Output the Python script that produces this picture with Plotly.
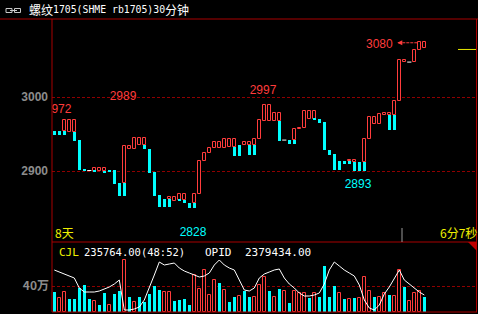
import plotly.graph_objects as go

W, H = 478, 314

# ---------------- data ----------------
N = 75
cols = list(range(N))

# red (rising) candle bodies: open (bottom) / close (top)
red_open = [None, None, 2954, 2953, 2953, None, None, None, 2901, 2900,
            2900, None, None, None, 2884, 2930, 2930, 2936, 2936, None,
            None, None, None, 2863, 2860, 2862, 2862, None, 2857, 2869,
            2914, 2924, 2931, 2931, 2931, 2933, 2933, None, 2935, 2935,
            2935, 2944, 2968, 2968, 2968, 2968, None, None, 2942, 2957,
            2958, 2971, 2971, None, None, None, None, None, None, 2914,
            2913, None, 2913, 2943, 2963, 2963, 2976, 2976, 2976, 2994,
            3047, None, 3047, 3063, 3066]
red_close = [None, None, 2969, 2969, 2969, None, None, None, 2905, 2905,
             2905, None, None, None, 2934, 2934, 2945, 2945, 2945, None,
             None, None, None, 2865, 2865, 2869, 2869, None, 2869, 2914,
             2924, 2931, 2940, 2940, 2943, 2943, 2943, None, 2939, 2939,
             2944, 2969, 2989, 2989, 2978, 2978, None, None, 2957, 2958,
             2981, 2981, 2981, None, None, None, None, None, None, 2915,
             2915, None, 2943, 2973, 2973, 2977, 2978, 2978, 2995, 3050,
             3050, None, 3063, 3074, 3074]
# cyan (falling) candle bodies: open (top) / close (bottom)
cyan_open = [2954, 2954, 2954, None, 2953, 2942, 2903, None, 2901, None,
             2900, 2902, 2902, 2884, 2884, None, None, None, 2936, 2930,
             2899, 2868, 2863, 2863, None, 2862, 2862, 2857, 2857, None,
             None, None, None, None, None, None, 2933, 2935, None, 2935,
             2935, None, None, None, None, 2968, None, 2942, 2942, None,
             None, None, 2971, 2970, 2966, 2929, 2923, 2914, 2914, 2914,
             2913, 2913, 2913, None, None, None, None, 2976, 2976, None,
             None, None, None, None, None]
cyan_close = [2949, 2949, 2949, None, 2941, 2902, 2900, None, 2900, None,
              2899, 2899, 2883, 2867, 2867, None, None, None, 2930, 2898,
              2867, 2852, 2852, 2852, None, 2860, 2857, 2851, 2851, None,
              None, None, None, None, None, None, 2921, 2921, None, 2922,
              2922, None, None, None, None, 2941, None, 2937, 2937, None,
              None, None, 2970, 2965, 2928, 2922, 2902, 2902, 2910, 2910,
              2900, 2900, 2900, None, None, None, None, 2956, 2956, None,
              None, None, None, None, None]
# unchanged (doji) bars
doji_col = [7, 46, 71]
doji_price = [2901, 2942, 3047]

# volume (CJL) and colour flag (R = rising, C = falling)
volume = [312000, 218000, 312000, 205000, 205000, 369000, 415000, 205000, 169000, 108000,
          300000, 108000, 274000, 326000, 800000, 235000, 154000, 235000, 158000, 280000,
          400000, 346000, 303000, 303000, 169000, 185000, 195000, 108000, 569000, 349000,
          646000, 262000, 492000, 442000, 338000, 158000, 235000, 246000, 328000, 235000,
          235000, 415000, 543000, 323000, 235000, 354000, 328000, 143000, 328000, 297000,
          288000, 211000, 297000, 235000, 712000, 235000, 400000, 288000, 200000, 200000,
          220000, 220000, 543000, 323000, 235000, 235000, 297000, 262000, 251000, 646000,
          389000, 174000, 297000, 323000, 235000]
vol_dir = list("CRRCCCCCRC" "CRCCRCRCCC" "CCRRCCCCRR" "RRRCRCCRCC" "RRRCRCRCRR"
               "RCRCCCCRCR" "CRRRCRRCRR" "CRRRC")

# open interest (OPID) line
opid = [2370400, 2368000, 2365600, 2363200, 2360800, 2348800, 2344000, 2344000, 2344000, 2345200,
        2347600, 2350000, 2353600, 2358400, 2322400, 2322400, 2323600, 2326000, 2334400, 2348800,
        2364400, 2380000, 2376400, 2377600, 2378800, 2372800, 2369200, 2366800, 2364400, 2362000,
        2363200, 2366800, 2376400, 2382400, 2376400, 2372800, 2370400, 2358400, 2346400, 2345200,
        2348800, 2360800, 2365600, 2368000, 2370400, 2371600, 2360800, 2353600, 2348800, 2342800,
        2339200, 2339200, 2340400, 2342800, 2353600, 2370400, 2380000, 2375200, 2370400, 2366800,
        2363200, 2352400, 2334400, 2324800, 2322400, 2328400, 2341600, 2350000, 2360800, 2370400,
        2358400, 2353600, 2348800, 2344000, 2340400]

# high / low markers
ext_col = [1, 14, 42, 61, 28]
ext_price = [2972, 2989, 2997, 2893, 2828]
ext_text = ["2972", "2989", "2997", "2893", "2828"]
ext_side = [1, 1, 1, -1, -1]
top_col, top_price, top_text = 73, 3074, "3080"
last_price = 3064

price_ticks = [2900, 3000]
price_tick_text = ["2900", "3000"]
vol_ticks = [400000]
vol_tick_text = ["40万"]

title_parts = ["螺纹", "1705(SHME rb1705)30", "分钟"]
cjl_text = "235764.00(48:52)"
opid_text = "2379434.00"

# ---------------- styling ----------------
RED = "#ff3c3c"
CYAN = "#00ffff"
BORDER = "#a80000"
GRID = "#900000"
YEL = "#f0f000"
GRAY = "#8c8c8c"

def px_x(p):
    return p / W

def px_y(p):
    return 1 - p / H

main_top, main_bot, vol_bot = 19, 242, 312
left_px, right_px = 52, 476
x_range = [-0.46, 84.34]
p_range = [2804.8, 3105.0]
v_range = [0, 1076950]
o_range = [2320000, 2404000]
ppu = (main_bot - main_top) / (p_range[1] - p_range[0])  # px per price unit

fig = go.Figure()

def pick(a, b):
    xs, base, h = [], [], []
    for i, (o, c) in enumerate(zip(a, b)):
        if o is not None and c is not None:
            xs.append(i)
            base.append(min(o, c))
            h.append(max(abs(c - o), 0.8))
    return xs, base, h

rx, rb, rh = pick(red_open, red_close)
cx, cb, ch = pick(cyan_open, cyan_close)

fig.add_trace(go.Bar(x=rx, y=rh, base=rb, width=0.5, marker=dict(color="black", line=dict(color=RED, width=1)),
                     xaxis="x", yaxis="y", showlegend=False, hoverinfo="skip"))
fig.add_trace(go.Bar(x=cx, y=ch, base=cb, width=0.6, marker=dict(color=CYAN, line=dict(width=0)),
                     xaxis="x", yaxis="y", showlegend=False, hoverinfo="skip"))
fig.add_trace(go.Scatter(x=doji_col, y=doji_price, mode="markers",
                         marker=dict(symbol="line-ew", size=3, line=dict(color="white", width=1)),
                         xaxis="x", yaxis="y", showlegend=False, hoverinfo="skip"))

# extremes labels (clipped at the plot edge)
off = 8.3 / ppu
fig.add_trace(go.Scatter(x=[c - 0.25 for c in ext_col],
                         y=[p + s * off for p, s in zip(ext_price, ext_side)],
                         mode="text", text=ext_text, textposition="middle center",
                         textfont=dict(family="Liberation Sans", size=12,
                                       color=[RED if s > 0 else CYAN for s in ext_side]),
                         cliponaxis=True, xaxis="x", yaxis="y", showlegend=False, hoverinfo="skip"))

# volume bars
vr = [i for i in cols if vol_dir[i] == "R"]
vc = [i for i in cols if vol_dir[i] == "C"]
fig.add_trace(go.Bar(x=vr, y=[volume[i] for i in vr], width=0.5,
                     marker=dict(color="black", line=dict(color=RED, width=1)),
                     xaxis="x2", yaxis="y2", showlegend=False, hoverinfo="skip"))
fig.add_trace(go.Bar(x=vc, y=[volume[i] for i in vc], width=0.6,
                     marker=dict(color=CYAN, line=dict(width=0)),
                     xaxis="x2", yaxis="y2", showlegend=False, hoverinfo="skip"))
fig.add_trace(go.Scatter(x=cols, y=opid, mode="lines", line=dict(color="white", width=1),
                         xaxis="x2", yaxis="y3", showlegend=False, hoverinfo="skip"))

dom_x = [left_px / W, right_px / W]
fig.update_layout(
    width=W, height=H, margin=dict(l=0, r=0, t=0, b=0),
    paper_bgcolor="black", plot_bgcolor="black", barmode="overlay", bargap=0,
    xaxis=dict(domain=dom_x, range=x_range, visible=False, anchor="y"),
    xaxis2=dict(domain=dom_x, range=x_range, visible=False, anchor="y2", matches="x"),
    yaxis=dict(domain=[px_y(main_bot), px_y(main_top)], range=p_range, anchor="x",
               tickvals=price_ticks, ticktext=price_tick_text, ticks="", showline=False, zeroline=False,
               tickfont=dict(family="Liberation Sans", size=12, color=GRAY, weight="bold"),
               showgrid=True, gridcolor=GRID, gridwidth=1, griddash="3px,2px", ticklabelstandoff=3),
    yaxis2=dict(domain=[px_y(vol_bot), px_y(main_bot)], range=v_range, anchor="x2",
                tickvals=vol_ticks, ticktext=vol_tick_text, ticks="", showline=False, zeroline=False,
                tickfont=dict(family="Noto Sans CJK SC", size=12, color=GRAY, weight="bold"),
                showgrid=True, gridcolor=GRID, gridwidth=1, griddash="3px,2px", ticklabelstandoff=2),
    yaxis3=dict(domain=[px_y(vol_bot), px_y(main_bot)], range=o_range, overlaying="y2",
                anchor="x2", visible=False),
)

shapes = []
def pline(x0, y0, x1, y1, color=BORDER, width=1, dash="solid"):
    shapes.append(dict(type="line", xref="paper", yref="paper", x0=px_x(x0), y0=px_y(y0),
                       x1=px_x(x1), y1=px_y(y1), line=dict(color=color, width=width, dash=dash)))

pline(0, main_top, W, main_top)
pline(left_px, main_top, left_px, vol_bot)
pline(right_px + 0.5, main_top, right_px + 0.5, vol_bot)
pline(left_px, main_bot, right_px + 1, main_bot)
pline(left_px, vol_bot, right_px + 1, vol_bot)
# gray time tick
pline(402, 228, 402, main_bot, color="#9a9a9a")
# triangle in volume panel
shapes.append(dict(type="path", xref="paper", yref="paper",
                   path=f"M {px_x(468)},{px_y(main_bot)} L {px_x(477)},{px_y(main_bot)} L {px_x(477)},{px_y(251)} Z",
                   fillcolor="#c00000", line=dict(width=0)))
# current price marker (yellow)
shapes.append(dict(type="line", xref="x domain", yref="y", x0=(458 - left_px) / (right_px - left_px), x1=1,
                   y0=last_price, y1=last_price, line=dict(color="#e8e800", width=1)))
# arrow from the top candle to the 3080 label
shapes.append(dict(type="line", xref="x", yref="y", x0=top_col - 4.2, x1=top_col - 0.2,
                   y0=top_price - 1, y1=top_price - 1, line=dict(color=RED, width=1, dash="3px,1px")))
# title icon
for a, b in [(6, 12), (14.5, 20.5)]:
    shapes.append(dict(type="rect", xref="paper", yref="paper", x0=px_x(a), x1=px_x(b),
                       y0=px_y(12.5), y1=px_y(8.5), line=dict(color="#c8c8c8", width=1)))
pline(10, 10.5, 17, 10.5, color="#c8c8c8")
fig.update_layout(shapes=shapes)

ann = []
def text(x, y, s, color="white", size=12, family="Noto Sans CJK SC", xanchor="left"):
    ann.append(dict(xref="paper", yref="paper", x=px_x(x), y=px_y(y), text=s, showarrow=False,
                    xanchor=xanchor, yanchor="middle", font=dict(color=color, size=size, family=family)))

text(27, 10, title_parts[0], size=12)
text(50.5, 10, title_parts[1], size=9.8, family="DejaVu Sans Mono")
text(163, 10, title_parts[2], size=12)
text(52.5, 233, "8天", color=YEL, size=12)
text(438, 233, "6分7秒", color=YEL, size=12)
text(56.5, 252, "CJL", color=YEL, size=11, family="DejaVu Sans Mono")
text(82, 252, cjl_text, size=10.5, family="DejaVu Sans Mono")
text(202.5, 252, "OPID", size=11, family="DejaVu Sans Mono")
text(242.5, 252, opid_text, size=11, family="DejaVu Sans Mono")

# 3080 label with arrow head
ann.append(dict(xref="x", yref="y", x=top_col - 4.4, y=top_price - 1, text="", showarrow=True,
                ax=6, ay=0, arrowhead=2, arrowsize=1, arrowwidth=1, arrowcolor=RED))
ann.append(dict(xref="x", yref="y", x=top_col - 4.9, y=top_price - 1, text=top_text, showarrow=False,
                xanchor="right", yanchor="middle", yshift=-1,
                font=dict(color=RED, size=12, family="Liberation Sans")))
fig.update_layout(annotations=ann)

fig.write_html("out.html")
